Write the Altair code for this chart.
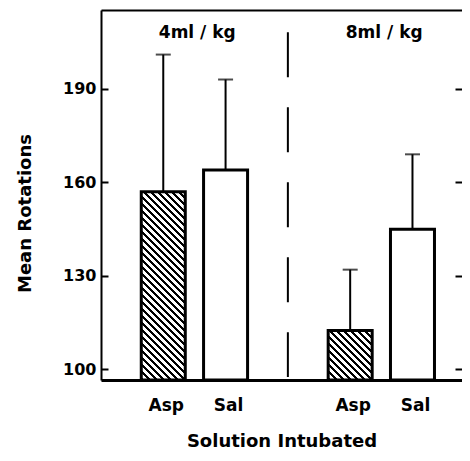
import altair as alt
import pandas as pd

# ---- data ----
slots = ["4|Asp", "4|Sal", "gap", "8|Asp", "8|Sal"]        # x categories (gap = divider slot)
bar_slot = ["4|Asp", "4|Sal", "8|Asp", "8|Sal"]
dose = ["4ml / kg", "4ml / kg", "8ml / kg", "8ml / kg"]
solution = ["Asp", "Sal", "Asp", "Sal"]
mean_rot = [157, 164, 112.5, 145]
upper_rot = [201, 193, 132, 169]
y_ticks = [100, 130, 160, 190]
y_domain = [96.6, 215.3]
group_labels = ["4ml / kg", "8ml / kg"]
group_first_slot = ["4|Asp", "8|Asp"]
divider_range = [208.2, 97.6]
group_label_level = 207.8

df = pd.DataFrame({"slot": bar_slot, "dose": dose, "solution": solution,
                   "mean": mean_rot, "upper": upper_rot})
lab_df = pd.DataFrame({"slot": group_first_slot, "label": group_labels})

W_PLOT, H_PLOT = 361, 370
P_IN, P_OUT, ALIGN = 0.2937, 0.544, 0.594
FONT = "DejaVu Sans"

step = W_PLOT / (len(slots) - P_IN + 2 * P_OUT)
bandw = step * (1 - P_IN)


def hatch(h_px, w_px=bandw, period=7.0):
    L = w_px + h_px
    t = L / (w_px * w_px + h_px * h_px)
    stops = []
    pos = 0.0
    while pos < L:
        a = pos / L
        b = min((pos + period / 2) / L, 1.0)
        c = min((pos + period) / L, 1.0)
        stops += [
            alt.GradientStop(offset=a, color="black"),
            alt.GradientStop(offset=b, color="black"),
            alt.GradientStop(offset=b, color="white"),
            alt.GradientStop(offset=c, color="white"),
        ]
        pos += period
    return alt.LinearGradient(gradient="linear", stops=stops,
                              x1=0, y1=1, x2=t * w_px, y2=1 - t * h_px)


xscale = alt.Scale(domain=slots, paddingInner=P_IN, paddingOuter=P_OUT, align=ALIGN)
yscale = alt.Scale(domain=y_domain, zero=False, nice=False)

bottom_axis = alt.Axis(
    orient="bottom", title="Solution Intubated", labelAngle=0, ticks=False, tickSize=0,
    domain=True, domainColor="black", domainWidth=3,
    labelExpr="datum.value == 'gap' ? '' : split(datum.value, '|')[1]",
    labelPadding=30, labelBaseline="alphabetic", labelOffset=3,
    labelFont=FONT, labelFontSize=17, labelFontWeight="bold", labelColor="black",
    titleFont=FONT, titleFontSize=18, titleFontWeight="bold", titleColor="black",
    titleBaseline="alphabetic", titleY=66,
)
top_axis = alt.Axis(
    orient="top", title=None, labels=False, ticks=False, tickSize=0,
    domain=True, domainColor="black", domainWidth=2,
)
left_axis = alt.Axis(
    orient="left", values=y_ticks, ticks=False, tickSize=0,
    domain=True, domainColor="black", domainWidth=2, grid=False, labelPadding=5,
    labelFont=FONT, labelFontSize=16, labelFontWeight="bold", labelColor="black",
    title="Mean Rotations", titleFont=FONT, titleFontSize=18, titleFontWeight="bold",
    titleColor="black", titleBaseline="alphabetic", titleX=-70.5, titleY=203,
)
# inward ticks on the left edge (a right-oriented axis moved to the left edge)
left_inner_ticks = alt.Axis(
    orient="right", values=y_ticks, offset=-W_PLOT, tickSize=7, tickWidth=2,
    tickColor="black", domain=False, grid=False, labels=False, title=None,
)
# inward ticks on the right edge
right_inner_ticks = alt.Axis(
    orient="right", values=y_ticks, offset=-7, tickSize=7, tickWidth=2,
    tickColor="black", domain=False, grid=False, labels=False, title=None,
)

base = alt.Chart(df)

sal_bars = base.transform_filter(alt.datum.solution == "Sal").mark_bar(
    fill="white", stroke="black", strokeWidth=3
).encode(x=alt.X("slot:N", scale=xscale, axis=bottom_axis),
         y=alt.Y("mean:Q", scale=yscale, axis=left_axis),
         y2=alt.Y2Datum(y_domain[0]))

asp_layers = []
for s, m in zip(bar_slot, mean_rot):
    if not s.endswith("Asp"):
        continue
    h_px = (m - y_domain[0]) / (y_domain[1] - y_domain[0]) * H_PLOT
    asp_layers.append(
        base.transform_filter(alt.datum.slot == s).mark_bar(
            fill=hatch(h_px), stroke="black", strokeWidth=3
        ).encode(x=alt.X("slot:N", scale=xscale, axis=None),
                 y=alt.Y("mean:Q", scale=yscale, axis=None),
                 y2=alt.Y2Datum(y_domain[0]))
    )

err = base.mark_rule(color="black", strokeWidth=2).encode(
    x=alt.X("slot:N", scale=xscale, axis=None),
    y=alt.Y("mean:Q", scale=yscale, axis=right_inner_ticks), y2="upper:Q")

caps = base.mark_tick(color="black", size=15, thickness=2).encode(
    x=alt.X("slot:N", scale=xscale, axis=top_axis),
    y=alt.Y("upper:Q", scale=yscale, axis=left_inner_ticks))

divider = alt.Chart(pd.DataFrame({"slot": ["gap"]})).mark_rule(
    color="black", strokeWidth=2, strokeDash=[45, 30]
).encode(x=alt.X("slot:N", scale=xscale, axis=None),
         y=alt.YDatum(divider_range[0], scale=yscale, axis=None),
         y2=alt.Y2Datum(divider_range[1]))

glabels = alt.Chart(lab_df).mark_text(
    font=FONT, fontSize=17, fontWeight="bold", color="black", dx=34, baseline="middle"
).encode(x=alt.X("slot:N", scale=xscale, axis=None),
         y=alt.YDatum(group_label_level, scale=yscale, axis=None), text="label:N")

chart = alt.layer(sal_bars, *asp_layers, err, caps, divider, glabels).resolve_axis(
    x="independent", y="independent"
).properties(
    width=W_PLOT, height=H_PLOT,
    autosize=alt.AutoSizeParams(type="none"),
    padding={"left": 93, "top": 2, "right": 0, "bottom": 70},
).configure_view(strokeWidth=0).configure(background="white")

chart.save("out.html", embed_options={"renderer": "svg", "actions": False})
